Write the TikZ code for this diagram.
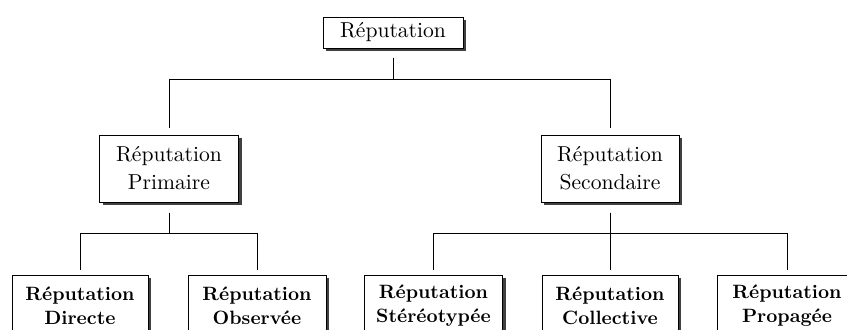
\documentclass[tikz,border=0pt]{standalone}
\usetikzlibrary{shadows}
\begin{document}
\begin{tikzpicture}[x=0.5pt,y=-0.5pt,
  box/.style={draw=black, line width=0.5pt, fill=white, inner sep=0pt, align=center,
    drop shadow={shadow xshift=1.5pt, shadow yshift=-1.5pt, fill=black!75, opacity=1}},
  upper/.style={box, font=\fontsize{10.8}{14}\selectfont},
  lower/.style={box, font=\fontsize{9.65}{12}\selectfont\bfseries},
  conn/.style={line width=0.5pt}]
  \path[clip, use as bounding box] (0,0) rectangle (847,329);

  % hierarchy boxes
  \node[upper, minimum width=70pt, minimum height=15.5pt] (top) at (393,32.5) {Réputation};
  \node[upper, minimum width=69.5pt, minimum height=33.5pt] (prim) at (169,168.5) {Réputation\\Primaire};
  \node[upper, minimum width=69pt, minimum height=33.5pt] (sec) at (610,168.5) {Réputation\\Secondaire};

  \node[lower, minimum width=68pt, minimum height=31pt] (dir) at (80,306) {Réputation\\Directe};
  \node[lower, minimum width=69pt, minimum height=31pt] (obs) at (257,306) {Réputation\\Observée};
  \node[lower, minimum width=69pt, minimum height=31pt] (ste) at (433.5,306) {Réputation\\Stéréotypée};
  \node[lower, minimum width=68pt, minimum height=31pt] (col) at (610,306) {Réputation\\Collective};
  \node[lower, minimum width=70pt, minimum height=31pt] (pro) at (787,306) {Réputation\\Propagée};

  % tree connectors
  \draw[conn, shorten <=4.5pt, shorten >=3.5pt] (top.south) -- ++(0,31) -| (prim.north);
  \draw[conn, shorten <=4.5pt, shorten >=3.5pt] (top.south) -- ++(0,31) -| (sec.north);

  \draw[conn, shorten <=5pt, shorten >=2.5pt] (prim.south) -- ++(0,31) -| (dir.north);
  \draw[conn, shorten <=5pt, shorten >=2.5pt] (prim.south) -- ++(0,31) -| (obs.north);

  \draw[conn, shorten <=5pt, shorten >=2.5pt] (sec.south) -- ++(0,31) -| (ste.north);
  \draw[conn, shorten <=5pt, shorten >=2.5pt] (sec.south) -- (col.north);
  \draw[conn, shorten <=5pt, shorten >=2.5pt] (sec.south) -- ++(0,31) -| (pro.north);
\end{tikzpicture}
\end{document}
